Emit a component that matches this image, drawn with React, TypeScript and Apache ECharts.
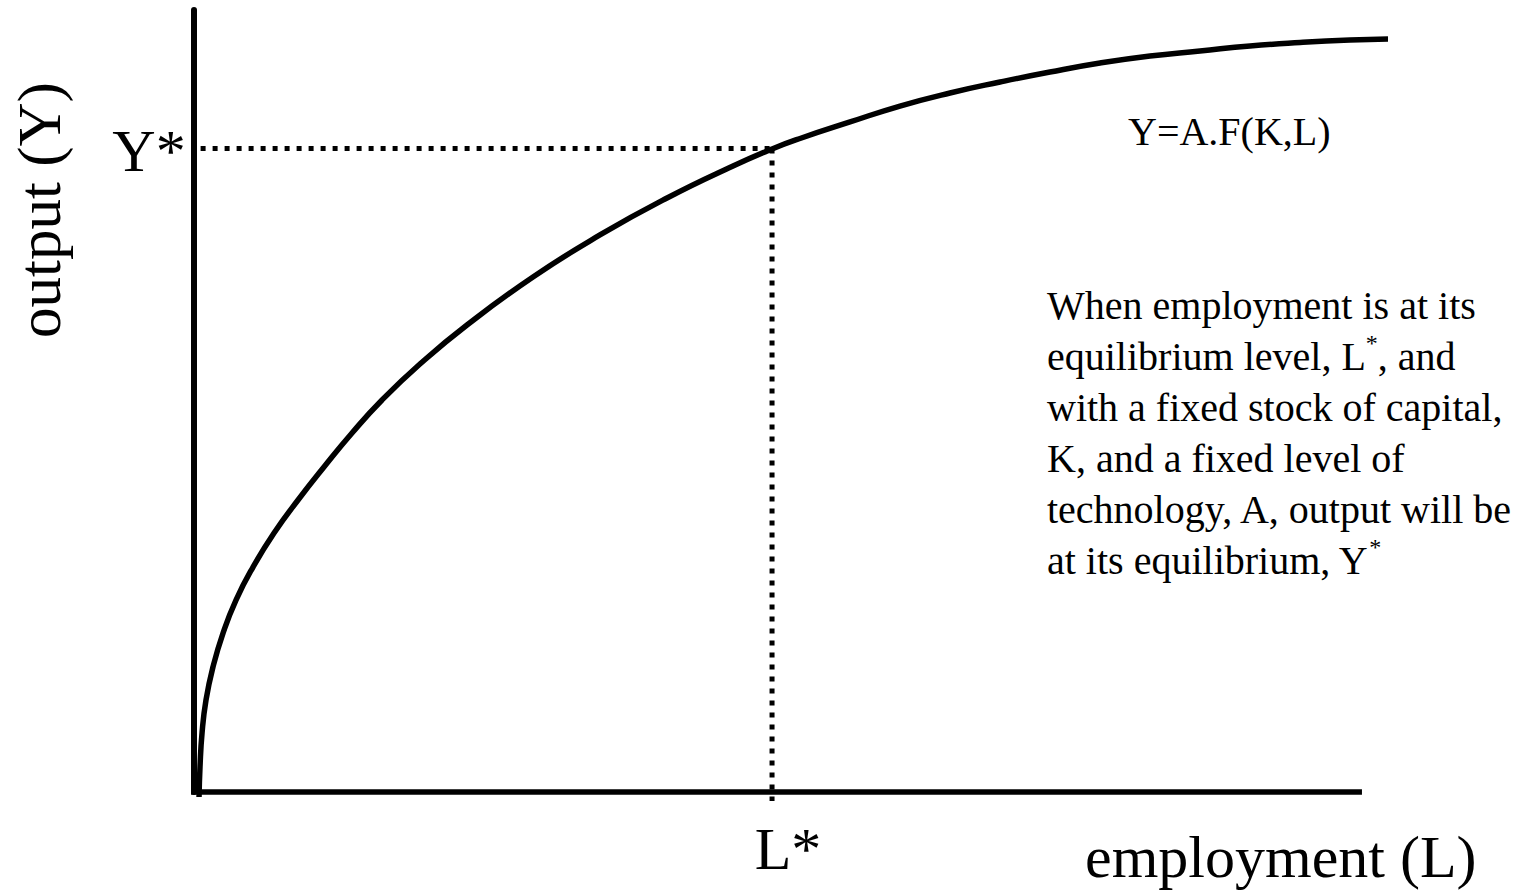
import React, { useEffect, useRef } from "react";
import * as echarts from "echarts";

// Production function curve (employment L, output Y), axis scale 0..100
const curveL = [
  0.42, 0.5, 0.67, 1.0, 1.58, 2.42, 3.5, 4.92, 6.67, 8.67, 10.83, 13.17, 15.67, 18.83,
  22.75, 28.25, 33.83, 39.42, 44.92, 48.17, 50.5, 54.67, 58.83, 63.0, 67.17, 71.33,
  75.5, 79.67, 83.83, 88.0, 92.17, 96.33, 99.5,
];
const curveY = [
  -0.64, 3.2, 7.54, 11.76, 15.98, 20.33, 24.55, 28.77, 33.12, 37.34, 41.56, 45.91, 50.13,
  54.73, 59.72, 65.86, 71.23, 75.96, 80.05, 82.23, 83.57, 85.68, 87.72, 89.39, 90.79,
  92.07, 93.22, 94.12, 94.76, 95.4, 95.84, 96.16, 96.29,
];

// Equilibrium point
const eqL = 48.17;
const eqY = 82.29;
const guideStartL = 0.55;
const guideEndY = -1.15;

// Axes
const axisMin = 0;
const axisMax = 100;
const xAxisStart = -0.3;
const xAxisEnd = 97.33;

const yLabel = "output (Y)";
const xLabel = "employment (L)";
const yStarLabel = "Y*";
const lStarLabel = "L*";
const formulaLabel = "Y=A.F(K,L)";
const noteLines = [
  "When employment is at its",
  "equilibrium level, L{sup|*}, and",
  "with a fixed stock of capital,",
  "K, and a fixed level of",
  "technology, A, output will be",
  "at its equilibrium, Y{sup|*}",
];

const FONT = "'Liberation Serif', 'Times New Roman', serif";

export default function App() {
  const ref = useRef<HTMLDivElement>(null);

  useEffect(() => {
    if (!ref.current) return;
    const chart = echarts.init(ref.current, null, { renderer: "svg" });
    const curve = curveL.map((l, i) => [l, curveY[i]]);
    chart.setOption({
      animation: false,
      backgroundColor: "#ffffff",
      grid: { left: 194, top: 10, right: 137, bottom: 100 },
      xAxis: {
        type: "value",
        min: axisMin,
        max: axisMax,
        axisLine: { show: false },
        axisTick: { show: false },
        axisLabel: { show: false },
        splitLine: { show: false },
      },
      yAxis: {
        type: "value",
        min: axisMin,
        max: axisMax,
        axisLine: { show: true, onZero: false, lineStyle: { color: "#000", width: 6 } },
        axisTick: { show: false },
        axisLabel: { show: false },
        splitLine: { show: false },
      },
      series: [
        {
          type: "line",
          name: "employment axis",
          data: [
            [xAxisStart, 0],
            [xAxisEnd, 0],
          ],
          symbol: "none",
          clip: false,
          lineStyle: { color: "#000", width: 5.5, cap: "butt" },
          z: 2,
        },
        {
          type: "line",
          name: "horizontal guide",
          data: [
            [guideStartL, eqY],
            [eqL, eqY],
          ],
          symbol: "none",
          clip: false,
          lineStyle: { color: "#000", width: 5, type: [5, 7], cap: "butt" },
          z: 3,
        },
        {
          type: "line",
          name: "vertical guide",
          data: [
            [eqL, eqY],
            [eqL, guideEndY],
          ],
          symbol: "none",
          clip: false,
          lineStyle: { color: "#000", width: 5, type: [5, 7], cap: "butt" },
          z: 3,
        },
        {
          type: "line",
          name: "Y=A.F(K,L)",
          data: curve,
          smooth: 0.5,
          symbol: "none",
          clip: false,
          lineStyle: { color: "#000", width: 5.5 },
          z: 4,
        },
      ],
      graphic: [
        {
          type: "text",
          x: 39,
          y: 210,
          rotation: Math.PI / 2,
          style: { text: yLabel, fontSize: 61, fontFamily: FONT, fill: "#000", align: "center", verticalAlign: "middle" },
        },
        {
          type: "text",
          x: 149,
          y: 151,
          style: { text: yStarLabel, fontSize: 60, fontFamily: FONT, fill: "#000", align: "center", verticalAlign: "middle" },
        },
        {
          type: "text",
          x: 788,
          y: 849,
          style: { text: lStarLabel, fontSize: 60, fontFamily: FONT, fill: "#000", align: "center", verticalAlign: "middle" },
        },
        {
          type: "text",
          x: 1085,
          y: 857,
          style: { text: xLabel, fontSize: 60, fontFamily: FONT, fill: "#000", align: "left", verticalAlign: "middle" },
        },
        {
          type: "text",
          x: 1128,
          y: 131,
          style: { text: formulaLabel, fontSize: 40, fontFamily: FONT, fill: "#000", align: "left", verticalAlign: "middle" },
        },
        {
          type: "text",
          x: 1047,
          y: 305 - 25.5,
          style: {
            text: noteLines.join("\n"),
            fontSize: 40,
            fontFamily: FONT,
            fill: "#000",
            lineHeight: 51,
            align: "left",
            verticalAlign: "top",
            rich: {
              sup: { fontSize: 24, fontFamily: FONT, fill: "#000", lineHeight: 24, verticalAlign: "top" },
            },
          },
        },
      ],
    });
    return () => chart.dispose();
  }, []);

  return (
    <div
      ref={ref}
      style={{ position: "fixed", left: 0, top: 0, width: 1531, height: 892, background: "#fff" }}
    />
  );
}
